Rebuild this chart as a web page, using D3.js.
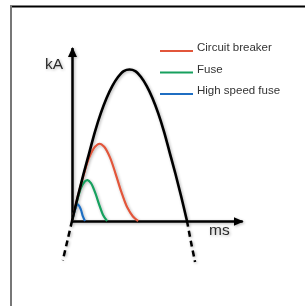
<!DOCTYPE html>
<meta charset="utf-8">
<style>
    body { margin: 0; background: #fff; }
    svg { display: block; }
    .lbl { font-family: "Liberation Sans", Arial, sans-serif; fill: #2a2a2a; }
    .legend text { font-family: "Liberation Sans", Arial, sans-serif; font-size: 11.5px; fill: #333; }
    .axis path { stroke: #000; stroke-width: 2.5; }
</style>
<svg width="305" height="306"></svg>
<script src="https://d3js.org/d3.v7.min.js"></script>
<script>
    // prospective (black) current, ms vs kA (arbitrary, peak = 100)
    var prospectiveMs = [0, 0.5, 1, 1.5, 2, 2.5, 3, 3.5, 4, 4.5, 5, 5.5, 6, 6.5, 7, 7.5, 8, 8.5, 9, 9.5, 10];
    var prospectiveKA = [0, 16, 31, 45, 59, 71, 81, 89, 95, 99, 100, 99, 95, 89, 81, 71, 59, 45, 31, 16, 0];
    var dashLeftMs = [0, -0.4, -0.8], dashLeftKA = [0, -13, -26];
    var dashRightMs = [10, 10.35, 10.7], dashRightKA = [0, -14, -27];

    var breakerMs = [0, 0.5, 1, 1.5, 2, 2.4, 2.8, 3.3, 3.8, 4.3, 4.8, 5.3, 5.75];
    var breakerKA = [0, 16, 30, 42, 49, 51, 49, 42, 31, 19, 9, 3, 0];
    var fuseMs = [0, 0.4, 0.8, 1.1, 1.35, 1.65, 2.0, 2.4, 2.7, 3.05];
    var fuseKA = [0, 12, 22, 26, 27, 25, 19, 10, 4, 0];
    var hsFuseMs = [0, 0.25, 0.5, 0.75, 0.95, 1.13];
    var hsFuseKA = [0, 7, 11, 8, 3, 0];

    var legendNames = ["Circuit breaker", "Fuse", "High speed fuse"];
    var legendColors = ["#e2563b", "#17a05e", "#1f6ec2"];

    var svg = d3.select("svg");

    // frame
    svg.append("line").attr("x1", 10).attr("x2", 305).attr("y1", 6.5).attr("y2", 6.5)
        .attr("stroke", "#000").attr("stroke-width", 2);
    svg.append("line").attr("x1", 11).attr("x2", 11).attr("y1", 6).attr("y2", 306)
        .attr("stroke", "#777").attr("stroke-width", 2);

    var defs = svg.append("defs");
    var f = defs.append("filter").attr("id", "soft").attr("x", "-20%").attr("y", "-20%")
        .attr("width", "140%").attr("height", "140%");
    f.append("feGaussianBlur").attr("in", "SourceAlpha").attr("stdDeviation", 1.4).attr("result", "b");
    f.append("feOffset").attr("in", "b").attr("dx", 1).attr("dy", 1).attr("result", "o");
    f.append("feComponentTransfer").attr("in", "o").attr("result", "s")
        .append("feFuncA").attr("type", "linear").attr("slope", 0.3);
    var m = f.append("feMerge");
    m.append("feMergeNode").attr("in", "s");
    m.append("feMergeNode").attr("in", "SourceGraphic");

    defs.append("marker").attr("id", "arrow").attr("viewBox", "0 0 10 10")
        .attr("refX", 9).attr("refY", 5).attr("markerUnits", "userSpaceOnUse")
        .attr("markerWidth", 10).attr("markerHeight", 10).attr("orient", "auto")
        .append("path").attr("d", "M0,0.5L10,5L0,9.5Z").attr("fill", "#000");

    var x = d3.scaleLinear().domain([0, 10]).range([72, 187]);
    var y = d3.scaleLinear().domain([0, 100]).range([221, 69.5]);

    var g = svg.append("g").attr("filter", "url(#soft)");

    var line = d3.line()
        .x(function(d) { return x(d[0]); })
        .y(function(d) { return y(d[1]); })
        .curve(d3.curveCatmullRom);

    function zip(a, b) { return a.map(function(v, i) { return [v, b[i]]; }); }

    // axes
    g.append("g").attr("class", "axis")
        .attr("transform", "translate(0," + y(0) + ")")
        .call(d3.axisBottom(d3.scaleLinear().domain([0, 14.8]).range([x(-0.1), x(14.8)])).ticks(0).tickSizeOuter(0))
        .select(".domain").attr("marker-end", "url(#arrow)");
    g.append("g").attr("class", "axis")
        .attr("transform", "translate(" + x(0) + ",0)")
        .call(d3.axisLeft(d3.scaleLinear().domain([0, 114.5]).range([y(-0.5), y(114.5)])).ticks(0).tickSizeOuter(0))
        .select(".domain").attr("marker-end", "url(#arrow)");

    var series = [
        { ms: hsFuseMs, ka: hsFuseKA, c: legendColors[2] },
        { ms: fuseMs, ka: fuseKA, c: legendColors[1] },
        { ms: breakerMs, ka: breakerKA, c: legendColors[0] }
    ];
    series.forEach(function(s) {
        g.append("path").attr("d", line(zip(s.ms, s.ka)))
            .attr("fill", "none").attr("stroke", s.c).attr("stroke-width", 2.2);
    });

    g.append("path").attr("d", line(zip(prospectiveMs, prospectiveKA)))
        .attr("fill", "none").attr("stroke", "#000").attr("stroke-width", 2.6);
    [zip(dashLeftMs, dashLeftKA), zip(dashRightMs, dashRightKA)].forEach(function(d) {
        g.append("path").attr("d", line(d))
            .attr("fill", "none").attr("stroke", "#000").attr("stroke-width", 2.5)
            .attr("stroke-dasharray", "6,4");
    });

    g.append("text").attr("class", "lbl").attr("x", 45).attr("y", 68.5)
        .attr("font-size", 15.5).text("kA");
    g.append("text").attr("class", "lbl").attr("x", 209).attr("y", 235)
        .attr("font-size", 15.5).text("ms");

    // legend
    var lg = svg.append("g").attr("class", "legend");
    var rows = lg.selectAll("g").data(legendNames).enter().append("g")
        .attr("transform", function(d, i) { return "translate(0," + (51 + i * 21.5) + ")"; });
    rows.append("line").attr("x1", 160).attr("x2", 193).attr("y1", 0).attr("y2", 0)
        .attr("stroke", function(d, i) { return legendColors[i]; }).attr("stroke-width", 2.2);
    rows.append("text").attr("x", 197).attr("y", 0).text(function(d) { return d; });
</script>
